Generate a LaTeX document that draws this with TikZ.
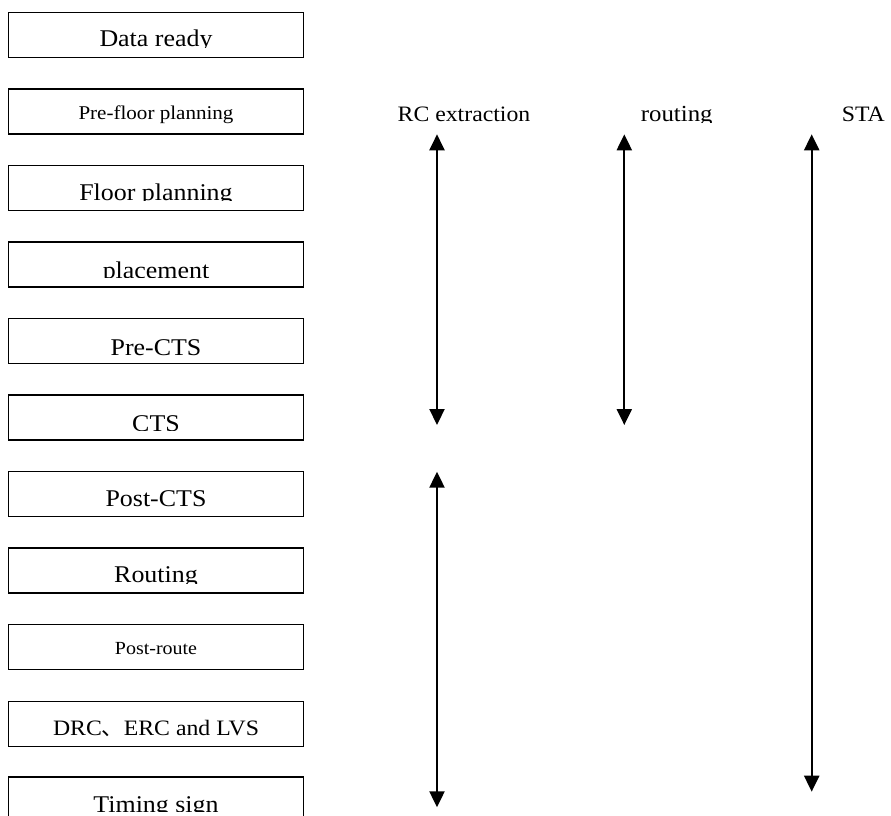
\documentclass[tikz,border=0pt]{standalone}
\usepackage{fontspec}
\setmainfont{Liberation Serif}[FakeStretch=1.08]
\newfontfamily\cjk{Noto Sans CJK SC}
\usetikzlibrary{arrows.meta}

\tikzset{
  stepbox/.style={draw=black, line width=1.2pt, minimum width=295pt,
    minimum height=45pt, inner sep=0pt},
  steptext/.style={anchor=base, inner sep=0pt, font=\fontsize{#1}{#1}\selectfont},
  span/.style={line width=2.2pt,
    {Triangle[width=15pt,length=16pt]}-{Triangle[width=15pt,length=16pt]}},
}

% one stage of the flow: name, top edge, font size, baseline, clip edge, label
\newcommand\flowstage[6]{%
  \node[stepbox] (#1) at (156,#2+22.5) {};
  \begin{scope}
    \clip (8,#2) rectangle (304,#5);
    \node[steptext=#3] (#1-t) at (156,#4) {#6};
  \end{scope}}

\begin{document}
\begin{tikzpicture}[x=1pt, y=-1pt]
  \useasboundingbox (0,0) rectangle (891,816);

  % flow stages, top to bottom
  \flowstage{s1}{12.5}{24}{46.7}{47.6}{Data ready}
  \flowstage{s2}{89}{19.5}{119}{140}{Pre-floor planning}
  \flowstage{s3}{165.5}{24}{200.2}{200.5}{Floor planning}
  \flowstage{s4}{242}{24}{278}{277}{placement}
  \flowstage{s5}{318.5}{24}{355}{362}{Pre-CTS}
  \flowstage{s6}{395}{24}{431}{430}{CTS}
  \flowstage{s7}{471.5}{24}{506.5}{515}{Post-CTS}
  \flowstage{s8}{548}{24}{582.6}{583}{Routing}
  \flowstage{s9}{624.5}{18.5}{654}{668}{Post-route}
  \flowstage{s10}{701.5}{22}{735.7}{745}{DRC{\cjk 、}ERC and LVS}
  \flowstage{s11}{777}{24}{812.6}{811.7}{Timing sign}

  % column headings
  \node[steptext=22] (rc) at (464,121.7) {RC extraction};
  \begin{scope}
    \clip (600,90) rectangle (760,122.5);
    \node[steptext=23] (rt) at (676.7,121.7) {routing};
  \end{scope}
  \node[steptext=22] (sta) at (863.3,121.7) {STA};

  % span end points
  \coordinate (rcA1) at (437,134.3);
  \coordinate (rcA2) at (437,425);
  \coordinate (rcB1) at (437,471.7);
  \coordinate (rcB2) at (437,807.3);
  \coordinate (rt1) at (624.3,134.3);
  \coordinate (rt2) at (624.3,425);
  \coordinate (sta1) at (811.7,134.3);
  \coordinate (sta2) at (811.7,791.7);

  % double-headed spans
  \draw[span] (rcA1) -- (rcA2);
  \draw[span] (rcB1) -- (rcB2);
  \draw[span] (rt1) -- (rt2);
  \draw[span] (sta1) -- (sta2);
\end{tikzpicture}
\end{document}
